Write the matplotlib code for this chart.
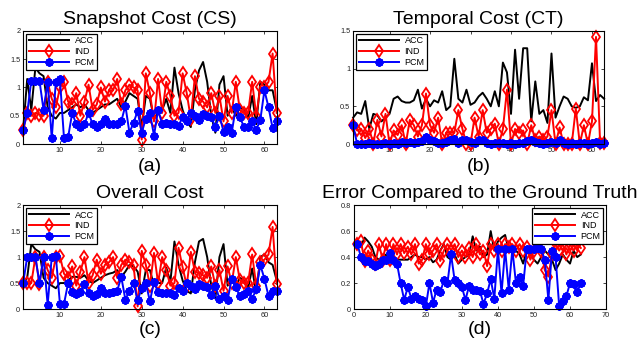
import numpy as np
import matplotlib
matplotlib.use("Agg")
import matplotlib.pyplot as plt

plt.rcParams['font.family'] = ['Liberation Sans', 'DejaVu Sans']

x = np.arange(1, 64)

# (a) snapshot cost
cs_acc = [0.25, 1.15, 0.6, 1.35, 1.25, 1.2, 0.65, 0.5, 0.45, 0.55, 0.55, 0.6, 0.65, 0.7, 0.65, 0.7,
          0.6, 0.55, 0.6, 0.65, 0.7, 0.7, 0.75, 0.8, 0.65, 0.75, 0.9, 0.85, 0.8, 0.3, 0.85, 0.8,
          0.45, 0.55, 0.6, 0.8, 0.55, 1.35, 0.9, 0.6, 0.4, 0.3, 0.95, 1.3, 1.45, 1.1, 0.5, 0.2,
          1.05, 1.2, 0.5, 0.65, 0.5, 0.65, 0.6, 0.45, 0.85, 0.35, 1.1, 1.05, 0.95, 0.95, 0.6]
cs_ind = [0.25, 0.55, 0.5, 0.55, 0.52, 0.5, 1.1, 0.8, 0.65, 1.0, 1.1, 0.75, 0.7, 0.9, 0.5, 0.75,
          1.05, 0.6, 0.7, 1.0, 0.75, 0.95, 0.95, 1.15, 0.7, 0.95, 1.05, 1.0, 0.95, 0.08, 1.25, 0.9,
          0.4, 1.15, 0.55, 1.1, 0.85, 0.5, 0.55, 1.25, 0.9, 0.45, 1.2, 0.8, 0.75, 0.65, 0.9, 0.55,
          0.85, 0.4, 0.85, 0.55, 1.1, 0.6, 0.55, 0.55, 1.1, 0.5, 1.0, 1.0, 1.1, 1.6, 0.55]
cs_pcm = [0.25, 0.55, 1.12, 1.12, 1.12, 0.6, 1.1, 0.1, 1.1, 1.15, 0.1, 0.12, 0.55, 0.35, 0.3, 0.35,
          0.55, 0.35, 0.3, 0.35, 0.45, 0.35, 0.35, 0.35, 0.4, 0.68, 0.2, 0.38, 0.58, 0.2, 0.45, 0.55,
          0.15, 0.6, 0.35, 0.38, 0.35, 0.35, 0.32, 0.48, 0.4, 0.55, 0.5, 0.42, 0.53, 0.5, 0.48, 0.3,
          0.5, 0.22, 0.3, 0.2, 0.65, 0.48, 0.3, 0.3, 0.4, 0.25, 0.43, 0.95, 0.65, 0.28, 0.4]

# (b) temporal cost
ct_acc = [0.35, 0.42, 0.4, 0.57, 0.2, 0.4, 0.38, 0.3, 0.35, 0.4, 0.6, 0.63, 0.57, 0.55, 0.55, 0.58,
          0.72, 0.47, 0.6, 0.5, 0.58, 0.55, 0.7, 0.45, 0.5, 1.13, 0.6, 0.55, 0.72, 0.52, 0.55, 0.63,
          0.68, 0.6, 0.5, 0.7, 0.5, 1.08, 0.95, 0.4, 1.25, 0.6, 1.27, 1.27, 0.3, 0.83, 0.4, 0.45,
          0.28, 1.2, 0.35, 0.5, 0.63, 0.6, 0.5, 0.48, 0.5, 0.62, 0.58, 1.07, 0.57, 0.65, 0.6]
ct_ind = [0.25, 0.18, 0.2, 0.08, 0.2, 0.0, 0.32, 0.1, 0.4, 0.0, 0.18, 0.12, 0.25, 0.0, 0.32, 0.25,
          0.1, 0.25, 0.67, 0.25, 0.15, 0.35, 0.0, 0.15, 0.15, 0.15, 0.45, 0.2, 0.0, 0.0, 0.35, 0.1,
          0.45, 0.15, 0.2, 0.27, 0.0, 0.2, 0.72, 0.0, 0.2, 0.15, 0.18, 0.0, 0.25, 0.05, 0.1, 0.05,
          0.1, 0.45, 0.0, 0.22, 0.0, 0.0, 0.0, 0.47, 0.0, 0.25, 0.0, 0.3, 1.42, 0.02, 0.02]
ct_pcm = [0.25, 0.0, 0.0, 0.0, 0.01, 0.0, 0.0, 0.0, 0.01, 0.0, 0.02, 0.0, 0.03, 0.02, 0.03, 0.02,
          0.03, 0.04, 0.1, 0.06, 0.04, 0.02, 0.02, 0.03, 0.05, 0.07, 0.02, 0.06, 0.05, 0.03, 0.02, 0.05,
          0.06, 0.01, 0.0, 0.01, 0.02, 0.01, 0.0, 0.02, 0.0, 0.01, 0.02, 0.04, 0.06, 0.03, 0.01, 0.0,
          0.02, 0.03, 0.01, 0.05, 0.02, 0.0, 0.01, 0.0, 0.02, 0.01, 0.0, 0.01, 0.03, 0.0, 0.02]

# (c) overall cost
oc_acc = [0.5, 0.6, 1.25, 1.15, 1.1, 0.6, 0.5, 0.45, 0.4, 0.5, 0.5, 0.55, 0.62, 0.62, 0.6, 0.65,
          0.55, 0.5, 0.55, 0.6, 0.65, 0.68, 0.7, 0.75, 0.62, 0.72, 0.85, 0.82, 0.72, 0.3, 0.75, 0.75,
          0.45, 0.5, 0.5, 0.8, 0.52, 1.3, 0.85, 0.55, 0.35, 0.3, 0.9, 1.3, 1.35, 1.0, 0.45, 0.2,
          1.0, 1.25, 0.45, 0.55, 0.45, 0.6, 0.55, 0.4, 0.78, 0.3, 1.0, 1.05, 0.9, 0.85, 0.55]
oc_ind = [0.5, 0.5, 0.5, 1.0, 0.48, 1.0, 0.75, 0.6, 1.0, 1.02, 0.68, 0.6, 0.82, 0.45, 0.72, 1.0,
          0.5, 0.65, 0.95, 0.68, 0.85, 0.9, 1.0, 0.6, 0.85, 0.95, 0.9, 0.85, 0.05, 1.12, 0.85, 0.45,
          1.08, 0.5, 1.0, 0.75, 0.45, 0.5, 1.18, 0.8, 0.45, 1.1, 0.72, 0.7, 0.65, 0.6, 0.82, 0.45,
          0.75, 0.35, 0.82, 0.5, 1.0, 0.55, 0.5, 0.5, 1.05, 0.45, 0.9, 0.95, 1.05, 1.58, 0.48]
oc_pcm = [0.5, 1.0, 1.0, 1.0, 0.5, 1.0, 0.08, 1.0, 1.02, 0.1, 0.1, 0.5, 0.32, 0.28, 0.32, 0.48,
          0.3, 0.25, 0.28, 0.4, 0.3, 0.3, 0.32, 0.35, 0.62, 0.18, 0.35, 0.5, 0.17, 0.4, 0.5, 0.15,
          0.52, 0.32, 0.3, 0.3, 0.3, 0.27, 0.4, 0.35, 0.5, 0.45, 0.38, 0.48, 0.45, 0.42, 0.27, 0.45,
          0.2, 0.25, 0.18, 0.58, 0.42, 0.25, 0.28, 0.35, 0.2, 0.38, 0.85, 0.58, 0.25, 0.35, 0.35]

# (d) error vs ground truth
er_acc = [0.5, 0.48, 0.55, 0.52, 0.48, 0.4, 0.38, 0.4, 0.42, 0.4, 0.4, 0.38, 0.38, 0.38, 0.38, 0.4,
          0.42, 0.4, 0.4, 0.38, 0.4, 0.36, 0.38, 0.45, 0.5, 0.4, 0.38, 0.42, 0.35, 0.38, 0.4, 0.42,
          0.56, 0.45, 0.48, 0.4, 0.42, 0.6, 0.45, 0.52, 0.55, 0.57, 0.45, 0.48, 0.45, 0.42, 0.35, 0.45,
          0.42, 0.38, 0.35, 0.4, 0.45, 0.42, 0.38, 0.3, 0.35, 0.42, 0.38, 0.35, 0.45, 0.4, 0.42]
er_ind = [0.5, 0.52, 0.37, 0.45, 0.38, 0.35, 0.5, 0.38, 0.5, 0.38, 0.5, 0.42, 0.5, 0.43, 0.48, 0.42,
          0.5, 0.35, 0.38, 0.5, 0.42, 0.45, 0.5, 0.37, 0.45, 0.5, 0.45, 0.5, 0.4, 0.45, 0.4, 0.47,
          0.4, 0.5, 0.42, 0.45, 0.33, 0.5, 0.45, 0.5, 0.45, 0.5, 0.48, 0.5, 0.45, 0.5, 0.45, 0.48,
          0.38, 0.45, 0.5, 0.45, 0.3, 0.25, 0.42, 0.5, 0.45, 0.5, 0.42, 0.5, 0.45, 0.5, 0.47]
er_pcm = [0.5, 0.4, 0.37, 0.37, 0.35, 0.33, 0.35, 0.38, 0.38, 0.43, 0.38, 0.35, 0.2, 0.07, 0.17, 0.08,
          0.1, 0.08, 0.07, 0.02, 0.2, 0.05, 0.15, 0.13, 0.22, 0.2, 0.42, 0.22, 0.2, 0.17, 0.07, 0.18,
          0.15, 0.15, 0.14, 0.04, 0.12, 0.23, 0.08, 0.46, 0.12, 0.46, 0.15, 0.46, 0.2, 0.25, 0.18, 0.46,
          0.46, 0.46, 0.47, 0.46, 0.38, 0.07, 0.45, 0.4, 0.02, 0.06, 0.1, 0.2, 0.19, 0.13, 0.2]

titles = ['Snapshot Cost (CS)', 'Temporal Cost (CT)', 'Overall Cost', 'Error Compared to the Ground Truth']
tags = ['(a)', '(b)', '(c)', '(d)']
series = [(cs_acc, cs_ind, cs_pcm), (ct_acc, ct_ind, ct_pcm),
          (oc_acc, oc_ind, oc_pcm), (er_acc, er_ind, er_pcm)]

fig = plt.figure(figsize=(6.42, 3.43), dpi=100)
boxes = [[0.036, 0.580, 0.395, 0.330], [0.550, 0.580, 0.391, 0.330],
         [0.036, 0.099, 0.395, 0.303], [0.551, 0.099, 0.393, 0.303]]

# matlab style asterisk
star = (8, 2, 0)

for i, (box, (acc, ind, pcm)) in enumerate(zip(boxes, series)):
    ax = fig.add_axes(box)
    ax.plot(x, acc, color='k', lw=1.4, label='ACC', clip_on=False)
    ax.plot(x, ind, color='#ff0000', lw=1.4, marker='d', ms=6.5, mfc='none', mew=1.3,
            label='IND', clip_on=False)
    ax.plot(x, pcm, color='#0000ff', lw=1.4, marker=star, ms=6, mew=1.6, label='PCM',
            clip_on=False)

    if i == 0 or i == 2:
        ax.set_ylim(0, 2)
        ax.set_yticks([0, 0.5, 1, 1.5, 2])
        ax.set_yticklabels(['0', '0.5', '1', '1.5', '2'])
    elif i == 1:
        ax.set_ylim(0, 1.5)
        ax.set_yticks([0, 0.5, 1, 1.5])
        ax.set_yticklabels(['0', '0.5', '1', '1.5'])
    else:
        ax.set_ylim(0, 0.8)
        ax.set_yticks([0, 0.2, 0.4, 0.6, 0.8])
        ax.set_yticklabels(['0', '0.2', '0.4', '0.6', '0.8'])

    if i == 3:
        ax.set_xlim(0, 70)
        ax.set_xticks(range(0, 71, 10))
        loc = 'upper right'
    else:
        ax.set_xlim(1, 63)
        ax.set_xticks(range(10, 61, 10))
        loc = 'upper left'

    ax.tick_params(direction='in', top=True, right=True, length=2.5, width=0.6,
                   labelsize=5.3, colors='#222222', pad=2)
    for s in ax.spines.values():
        s.set_linewidth(0.8)

    leg = ax.legend(loc=loc, fontsize=6.5, handlelength=4.5, fancybox=False,
                    framealpha=1, edgecolor='k', borderaxespad=0.3,
                    labelspacing=0.2, borderpad=0.3, handletextpad=0.6)
    leg.get_frame().set_linewidth(0.9)

    ax.set_title(titles[i], fontsize=14, pad=5)
    ax.text(0.5, -0.2, tags[i], transform=ax.transAxes, ha='center', va='center', fontsize=14)

fig.savefig('out.png', dpi=100)
